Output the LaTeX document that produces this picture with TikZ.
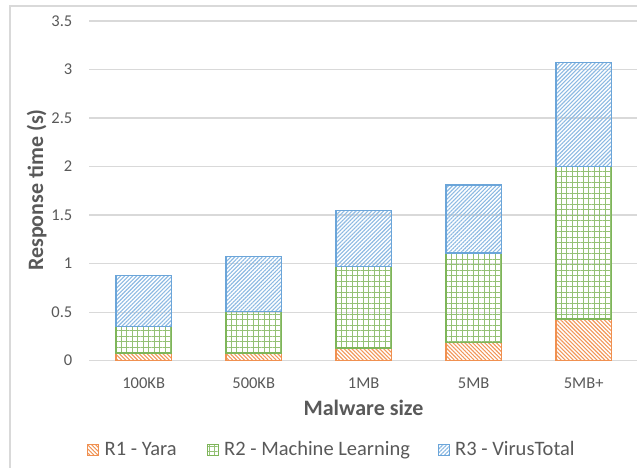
\documentclass[tikz,border=0pt]{standalone}
\usepackage{fontspec}
\setmainfont{Carlito}
\usetikzlibrary{patterns.meta}
\definecolor{txt}{HTML}{595959}
\definecolor{gridc}{HTML}{D9D9D9}
\definecolor{orng}{HTML}{ED7D31}
\definecolor{grn}{HTML}{70AD47}
\definecolor{blu}{HTML}{5B9BD5}
\begin{document}
\begin{tikzpicture}[x=1pt,y=1pt,
 tick/.style={text=txt,font=\fontsize{16.5}{19}\selectfont,inner sep=0pt},
 ttl/.style={text=txt,font=\fontsize{22}{26}\selectfont\bfseries,inner sep=0pt},
 leg/.style={text=txt,font=\fontsize{20.5}{24}\selectfont,inner sep=0pt,anchor=base west},
 gridline/.style={draw=gridc,line width=1.3pt},
 rone/.style={draw=orng!85,line width=1.2pt,pattern={Lines[angle=-45,distance=2.8pt,line width=1.1pt]},pattern color=orng!80},
 rtwo/.style={draw=grn!90,line width=1.2pt,pattern={Hatch[angle=0,distance=5.5pt,line width=0.8pt]},pattern color=grn!75},
 rthree/.style={draw=blu!90,line width=1.2pt,pattern={Lines[angle=45,distance=2.8pt,line width=1.1pt]},pattern color=blu!70},
]
\useasboundingbox (0,0) rectangle (637,468);
% frame
\draw[draw=gridc,line width=1.2pt] (10,0) -- (10,462) -- (637,462);
\begin{scope}[y=97.06pt,yshift=107.3pt]
 \foreach \v/\l [count=\k] in {0/0,0.5/0.5,1/1,1.5/1.5,2/2,2.5/2.5,3/3,3.5/3.5}{
  \draw[gridline] (89,\v) -- (637,\v);
  \node[tick,anchor=east] (ytick\k) at (72.5,\v) {\l};
 }
 \foreach \i/\a/\b/\c in {0/0.08/0.35/0.88, 1/0.08/0.51/1.07, 2/0.13/0.97/1.55, 3/0.185/1.11/1.81, 4/0.43/2.0/3.07}{
  \draw[rone] ({116+110*\i},0) rectangle ({171.3+110*\i},\a);
  \draw[rtwo] ({116+110*\i},\a) rectangle ({171.3+110*\i},\b);
  \draw[rthree] ({116+110*\i},\b) rectangle ({171.3+110*\i},\c);
 }
\end{scope}
% x tick labels
\foreach \t [count=\k from 0] in {100KB,500KB,1MB,5MB,5MB+}{
 \node[tick] (xtick\k) at ({143.7+110*\k},85) {\t};
}
% axis titles
\node[ttl,anchor=base] (xtitle) at (363.5,52) {Malware size};
\node[ttl,anchor=base,rotate=90] (ytitle) at (43,278) {Response time (s)};
% legend
\draw[rone,line width=1pt] (87.5,12.5) rectangle (98.5,23.5);
\node[leg] (leg1) at (104.5,12) {R1 - Yara};
\draw[rtwo,line width=1pt] (207,12.5) rectangle (218,23.5);
\node[leg] (leg2) at (224,12) {R2 - Machine Learning};
\draw[rthree,line width=1pt] (438,12.5) rectangle (449,23.5);
\node[leg] (leg3) at (455,12) {R3 - VirusTotal};
\end{tikzpicture}
\end{document}
